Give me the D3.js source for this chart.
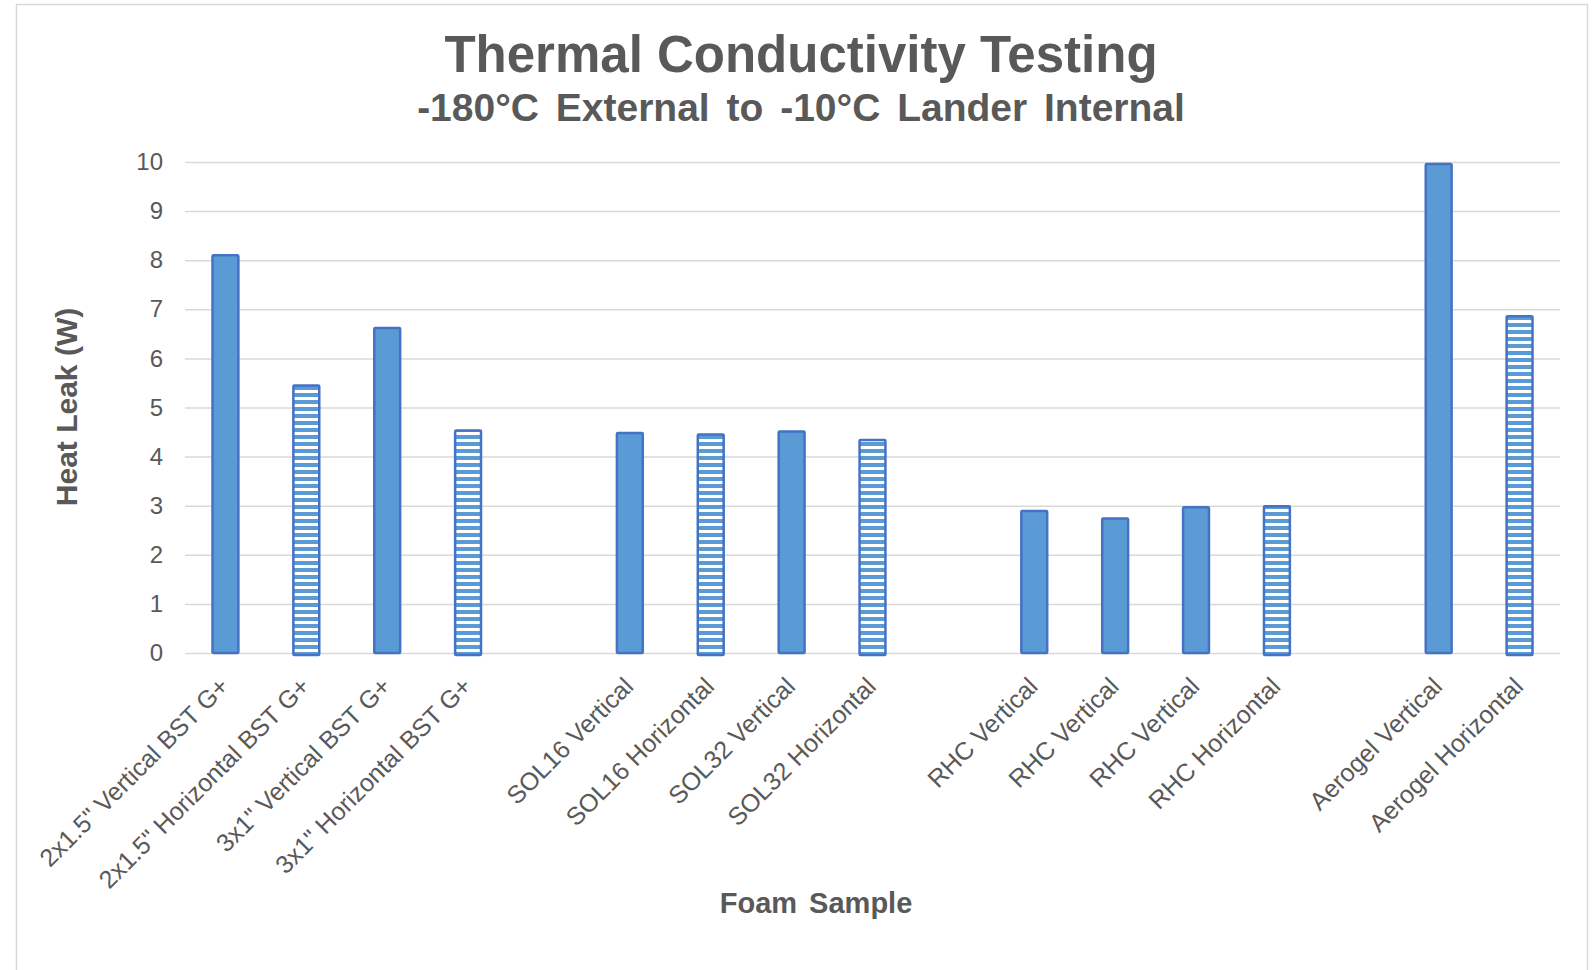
<!DOCTYPE html>
<html>
<head>
<meta charset="utf-8">
<script src="https://cdn.jsdelivr.net/npm/d3@7"></script>
<style>
  body { margin: 0; background: #fff; }
  svg { display: block; font-family: "Liberation Sans", Arial, sans-serif; }
</style>
</head>
<body>
<div id="chart"></div>
<script>
// category labels, "" marks the empty slot between the foam groups
var labels = ['2x1.5" Vertical BST G+', '2x1.5" Horizontal BST G+', '3x1" Vertical BST G+', '3x1" Horizontal BST G+', '',
  'SOL16 Vertical', 'SOL16 Horizontal', 'SOL32 Vertical', 'SOL32 Horizontal', '',
  'RHC Vertical', 'RHC Vertical', 'RHC Vertical', 'RHC Horizontal', '',
  'Aerogel Vertical', 'Aerogel Horizontal'];
// heat leak in W
var heatLeak = [8.10, 5.45, 6.62, 4.53, null,
  4.48, 4.45, 4.51, 4.34, null,
  2.89, 2.74, 2.97, 2.99, null,
  9.96, 6.86];
// V = solid bar, H = striped bar
var orientation = ['V', 'H', 'V', 'H', null,
  'V', 'H', 'V', 'H', null,
  'V', 'V', 'V', 'H', null,
  'V', 'H'];
var yTicks = [0, 1, 2, 3, 4, 5, 6, 7, 8, 9, 10];

var W = 1594, H = 970;
var margin = { top: 162, right: 34, bottom: 317, left: 185 };
var width = W - margin.left - margin.right,
    height = H - margin.top - margin.bottom;

var textCol = "#595959";

var svg = d3.select("#chart").append("svg")
    .attr("width", W)
    .attr("height", H);

// striped fill for the horizontal samples
var defs = svg.append("defs");
var pat = defs.append("pattern")
    .attr("id", "stripes")
    .attr("patternUnits", "userSpaceOnUse")
    .attr("width", 8)
    .attr("height", 7);
pat.append("rect").attr("width", 8).attr("height", 7).attr("fill", "#fff");
pat.append("rect").attr("y", 0).attr("width", 8).attr("height", 4).attr("fill", "#5B9BD5");

// outer frame
svg.append("rect")
    .attr("x", 16.5).attr("y", 4.5)
    .attr("width", 1571).attr("height", 990)
    .attr("fill", "none")
    .attr("stroke", "#d9d9d9")
    .attr("stroke-width", 1.5);

var g = svg.append("g")
    .attr("transform", "translate(" + margin.left + "," + margin.top + ")");

var x = d3.scaleBand()
    .domain(d3.range(labels.length))
    .range([0, width])
    .paddingInner(0.68)
    .paddingOuter(0.34);

var y = d3.scaleLinear()
    .domain([0, 10])
    .range([height, 0]);

// gridlines + y tick labels
var yAxis = g.append("g")
    .call(d3.axisLeft(y).tickValues(yTicks).tickSize(-width).tickPadding(22));
yAxis.select(".domain").remove();
yAxis.selectAll(".tick line")
    .attr("stroke", "#d9d9d9")
    .attr("stroke-width", 1.5);
yAxis.selectAll(".tick text")
    .attr("fill", textCol)
    .style("font-size", "24px")
    .style("font-family", "'Liberation Sans', Arial, sans-serif");

// bars
var data = labels.map(function(l, i) {
  return { i: i, label: l, value: heatLeak[i], kind: orientation[i] };
}).filter(function(d) { return d.value != null; });

g.selectAll(".bar")
    .data(data)
    .enter()
    .append("rect")
    .attr("class", "bar")
    .attr("x", function(d) { return x(d.i); })
    .attr("y", function(d) { return y(d.value); })
    .attr("width", x.bandwidth())
    .attr("height", function(d) { return y(0) - y(d.value) + (d.kind == 'H' ? 2 : 0); })
    .attr("fill", function(d) { return d.kind == 'H' ? "url(#stripes)" : "#5B9BD5"; })
    .attr("stroke", "#4472C4")
    .attr("stroke-width", 2.5)
    .attr("rx", 1);

// x labels, rotated
g.append("g")
    .selectAll("text")
    .data(labels.map(function(l, i) { return { i: i, label: l }; }).filter(function(d) { return d.label != ""; }))
    .enter()
    .append("text")
    .attr("transform", function(d) {
      return "translate(" + (x(d.i) + x.bandwidth() / 2 + 5) + "," + (height + 35) + ") rotate(-45)";
    })
    .attr("text-anchor", "end")
    .attr("fill", textCol)
    .style("font-size", "25px")
    .text(function(d) { return d.label; });

// titles
svg.append("text")
    .attr("x", 801).attr("y", 72)
    .attr("text-anchor", "middle")
    .attr("fill", textCol)
    .style("font-size", "51px")
    .style("font-weight", "bold")
    .text("Thermal Conductivity Testing");

svg.append("text")
    .attr("x", 801).attr("y", 121)
    .attr("text-anchor", "middle")
    .attr("fill", textCol)
    .style("font-size", "39px")
    .style("font-weight", "bold")
    .style("word-spacing", "6px")
    .text("-180°C External to -10°C Lander Internal");

svg.append("text")
    .attr("x", 816).attr("y", 913)
    .attr("text-anchor", "middle")
    .attr("fill", textCol)
    .style("font-size", "29px")
    .style("font-weight", "bold")
    .style("word-spacing", "4px")
    .text("Foam Sample");

svg.append("text")
    .attr("transform", "translate(77,407) rotate(-90)")
    .attr("text-anchor", "middle")
    .attr("fill", textCol)
    .style("font-size", "30px")
    .style("font-weight", "bold")
    .text("Heat Leak (W)");
</script>
</body>
</html>
